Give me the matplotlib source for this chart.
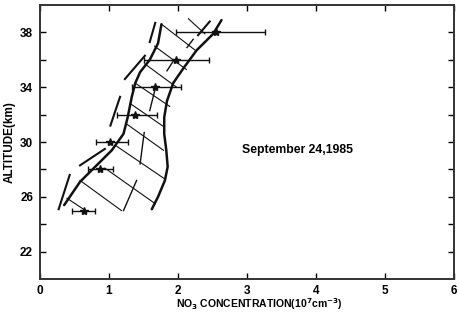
import matplotlib
matplotlib.use("Agg")
import matplotlib.pyplot as plt

# measured NO3 profile, September 24, 1985
alt_km = [38, 36, 34, 32, 30, 28, 25]
no3 = [2.55, 1.97, 1.66, 1.37, 1.01, 0.87, 0.64]
no3_lo = [1.97, 1.50, 1.33, 1.11, 0.81, 0.70, 0.47]
no3_hi = [3.26, 2.45, 2.05, 1.69, 1.27, 1.06, 0.80]

# model envelope (x, altitude)
left_edge = [(0.35, 25.4), (0.58, 27.1), (0.82, 28.3), (1.04, 29.4), (1.21, 30.6),
             (1.27, 31.8), (1.33, 33.3), (1.38, 34.3), (1.45, 35.1), (1.59, 36.0),
             (1.71, 37.2), (1.76, 38.6)]
right_edge = [(2.63, 38.9), (2.51, 37.9), (2.27, 36.7), (2.08, 35.4), (1.93, 34.3),
              (1.84, 33.0), (1.80, 31.8), (1.80, 30.6), (1.83, 29.4), (1.85, 28.2),
              (1.81, 27.2), (1.71, 26.0), (1.62, 25.1)]

# broken outer curve on the left, and the short strokes at the top right
outer_dashes = [((0.27, 25.1), (0.43, 27.6)), ((0.58, 28.3), (0.94, 29.5)),
                ((1.02, 31.2), (1.16, 33.3)), ((1.23, 34.6), (1.52, 36.3)),
                ((1.59, 37.3), (1.67, 38.7)), ((2.29, 37.8), (2.46, 38.8))]
mid_dashes = [((1.21, 25.0), (1.40, 27.2)), ((1.45, 28.4), (1.51, 30.7)),
              ((1.59, 32.3), (1.67, 33.9)), ((1.84, 35.2), (1.93, 35.9)),
              ((2.13, 36.9), (2.22, 37.5))]
hatch = [((1.76, 38.6), (2.25, 36.7)), ((2.15, 39.0), (2.39, 37.9)),
         ((1.66, 37.0), (2.12, 35.3)), ((1.52, 35.7), (1.98, 34.0)),
         ((1.38, 34.3), (1.88, 32.6)), ((1.31, 32.8), (1.80, 31.1)),
         ((1.26, 31.3), (1.79, 29.4)), ((1.11, 29.7), (1.81, 27.3)),
         ((0.94, 28.1), (1.67, 25.5)), ((0.58, 27.2), (1.18, 25.0)),
         ((0.39, 25.9), (0.63, 25.1))]

x_ticks = [0, 1, 2, 3, 4, 5, 6]
y_ticks = [22, 26, 30, 34, 38]
y_minor = [24, 28, 32, 36]

plt.rcParams["font.family"] = ["Liberation Sans", "DejaVu Sans"]
plt.rcParams["font.weight"] = "bold"

fig = plt.figure(figsize=(4.6, 3.15), dpi=100)
ax = fig.add_axes([0.087, 0.114, 0.900, 0.870])

ink = "#111111"
ax.plot(*zip(*left_edge), color=ink, lw=1.8, solid_capstyle="round")
ax.plot(*zip(*right_edge), color=ink, lw=1.8, solid_capstyle="round")
for (x0, y0), (x1, y1) in outer_dashes:
    ax.plot([x0, x1], [y0, y1], color=ink, lw=1.5)
for (x0, y0), (x1, y1) in mid_dashes:
    ax.plot([x0, x1], [y0, y1], color=ink, lw=1.0)
for (x0, y0), (x1, y1) in hatch:
    ax.plot([x0, x1], [y0, y1], color=ink, lw=0.8)

xerr = [[v - lo for v, lo in zip(no3, no3_lo)], [hi - v for v, hi in zip(no3, no3_hi)]]
ax.errorbar(no3, alt_km, xerr=xerr, fmt="*", color=ink, ms=6, capsize=2.5,
            elinewidth=1.0, capthick=1.0, zorder=5)

ax.text(2.93, 29.4, "September 24,1985", fontsize=8.8, fontweight="bold",
        va="center", ha="left")

ax.set_xlim(0, 6)
ax.set_ylim(20, 40)
ax.set_xticks(x_ticks)
ax.set_yticks(y_ticks)
ax.set_yticks(y_minor, minor=True)
ax.tick_params(direction="in", top=True, right=True, which="both",
               labelsize=8.5, width=1.0, length=4, pad=5)
ax.tick_params(axis="x", pad=4)
for s in ax.spines.values():
    s.set_linewidth(1.4)
    s.set_color("#333333")

ax.set_ylabel("ALTITUDE(km)", fontsize=8.5, fontweight="bold", labelpad=3)
ax.set_xlabel(r"NO$_\mathbf{3}$ CONCENTRATION(10$^\mathbf{7}$cm$^\mathbf{-3}$)",
              fontsize=7.5, fontweight="bold", va="top")
ax.xaxis.set_label_coords(0.53, -0.062)

fig.savefig("out.png", dpi=100, facecolor="white")
plt.close(fig)
